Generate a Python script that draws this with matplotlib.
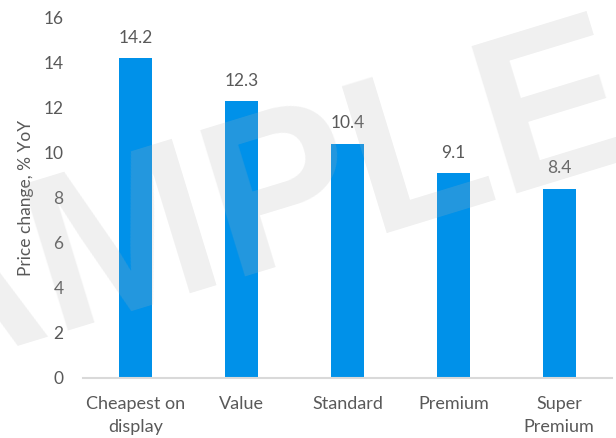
import matplotlib
matplotlib.use("Agg")
import matplotlib.pyplot as plt

categories = ["Cheapest on\ndisplay", "Value", "Standard", "Premium", "Super\nPremium"]
values = [14.2, 12.3, 10.4, 9.1, 8.4]
y_ticks = [0, 2, 4, 6, 8, 10, 12, 14, 16]

text_color = "#595959"
bar_color = "#0091E9"

plt.rcParams["font.family"] = ["Lato", "DejaVu Sans"]

fig = plt.figure(figsize=(6.16, 4.38), dpi=100)
ax = fig.add_axes([0.1347, 0.137, 0.859, 0.822])

x = list(range(len(categories)))
ax.bar(x, values, width=0.31, color=bar_color, zorder=2)

for xi, v in zip(x, values):
    ax.annotate(f"{v:.1f}", (xi, v), xytext=(0, 9), textcoords="offset points",
                ha="center", va="bottom", fontsize=12.5, color=text_color)

ax.set_xlim(-0.5, len(categories) - 0.5)
ax.set_ylim(0, 16)
ax.set_yticks(y_ticks)
ax.set_yticklabels([str(t) for t in y_ticks])
ax.set_xticks(x)
ax.set_xticklabels(categories, linespacing=1.5)
ax.tick_params(axis="both", length=0, colors=text_color, labelsize=12.5)
ax.tick_params(axis="x", labelsize=13, pad=13)
ax.tick_params(axis="y", pad=14)

for side in ["top", "right", "left"]:
    ax.spines[side].set_visible(False)
ax.spines["bottom"].set_color("#d9d9d9")
ax.spines["bottom"].set_linewidth(1.5)

ax.set_ylabel("Price change, % YoY", fontsize=12.5, color=text_color, labelpad=7)

# Watermark across the whole figure
fig.text(185 / 616, 1 - 232 / 438, "SAMPLE", fontsize=160, fontweight="bold",
         family="Liberation Sans", color=(0.70, 0.70, 0.70), alpha=0.2,
         rotation=17, rotation_mode="anchor", ha="center", va="center", zorder=10)

fig.savefig("out.png", dpi=100)
